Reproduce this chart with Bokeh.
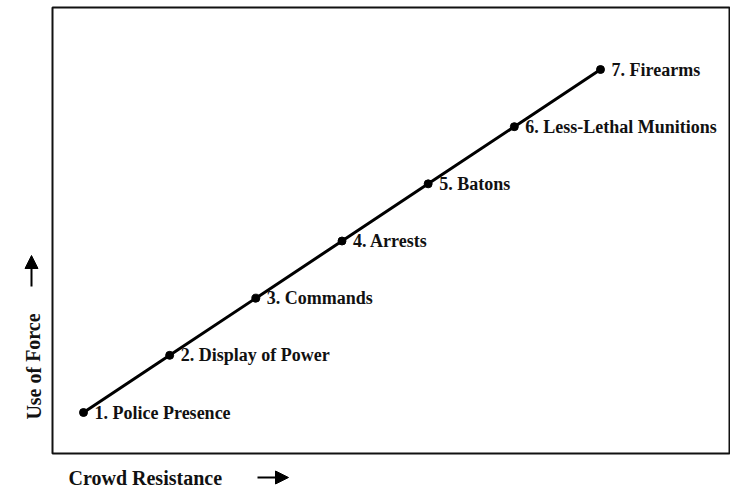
from bokeh.plotting import figure
from bokeh.models import Range1d, Label, Arrow, NormalHead, ColumnDataSource, BoxAnnotation
from bokeh.core.properties import value
from bokeh.embed import file_html
from bokeh.resources import INLINE

# ---- data ----
crowd_resistance = [1, 2, 3, 4, 5, 6, 7]
use_of_force = [1, 2, 3, 4, 5, 6, 7]
step_labels = [
    "1. Police Presence",
    "2. Display of Power",
    "3. Commands",
    "4. Arrests",
    "5. Batons",
    "6. Less-Lethal Munitions",
    "7. Firearms",
]
x_title = "Crowd Resistance"
y_title = "Use of Force"

FONT = "Liberation Serif"
W, H = 730, 490

# pixel scale: step 1 at px (83, 412), step 7 at px (600, 69)
PX1, PY1, PX7, PY7 = 83.0, 412.0, 600.0, 69.0
sx = (PX7 - PX1) / 6.0
sy = (PY1 - PY7) / 6.0


def fx(px):
    return 1 + (px - PX1) / sx


def fy(py):
    return 1 + (PY1 - py) / sy


p = figure(
    width=W, height=H,
    output_backend="svg", toolbar_location=None,
    x_range=Range1d(fx(0), fx(W)), y_range=Range1d(fy(H), fy(0)),
    x_axis_location=None, y_axis_location=None,
    min_border=0,
)
p.grid.visible = False
p.outline_line_color = None
p.background_fill_color = "white"
p.border_fill_color = "white"

# plot box
p.add_layout(BoxAnnotation(left=fx(52), right=fx(729), bottom=fy(453), top=fy(7),
                           fill_color=None, fill_alpha=0,
                           line_color="#111111", line_alpha=1.0, line_width=2))

src = ColumnDataSource(dict(x=crowd_resistance, y=use_of_force, label=step_labels))

p.line("x", "y", source=src, line_width=3, line_color="black")
p.scatter("x", "y", source=src, size=8, color="black")
p.text("x", "y", text="label", source=src, x_offset=11, y_offset=0,
       text_font=value(FONT), text_font_style="bold",
       text_font_size="18px", text_baseline="middle", text_align="left",
       text_color="#111111")

# axis titles
p.add_layout(Label(x=fx(33), y=fy(366), text=y_title, angle=1.5708,
                   text_font=FONT, text_font_style="bold", text_font_size="20px",
                   text_align="center", text_baseline="middle", text_color="#111111"))
p.add_layout(Label(x=fx(68), y=fy(477), text=x_title,
                   text_font=FONT, text_font_style="bold", text_font_size="20px",
                   text_align="left", text_baseline="middle", text_color="#111111"))

# arrows
p.add_layout(Arrow(x_start=fx(31), y_start=fy(286), x_end=fx(31), y_end=fy(255),
                   line_width=2, line_color="black",
                   end=NormalHead(size=13, fill_color="black", line_color="black")))
p.add_layout(Arrow(x_start=fx(257), y_start=fy(477), x_end=fx(288), y_end=fy(477),
                   line_width=2, line_color="black",
                   end=NormalHead(size=13, fill_color="black", line_color="black")))

open("out.html", "w").write(file_html(p, INLINE))
